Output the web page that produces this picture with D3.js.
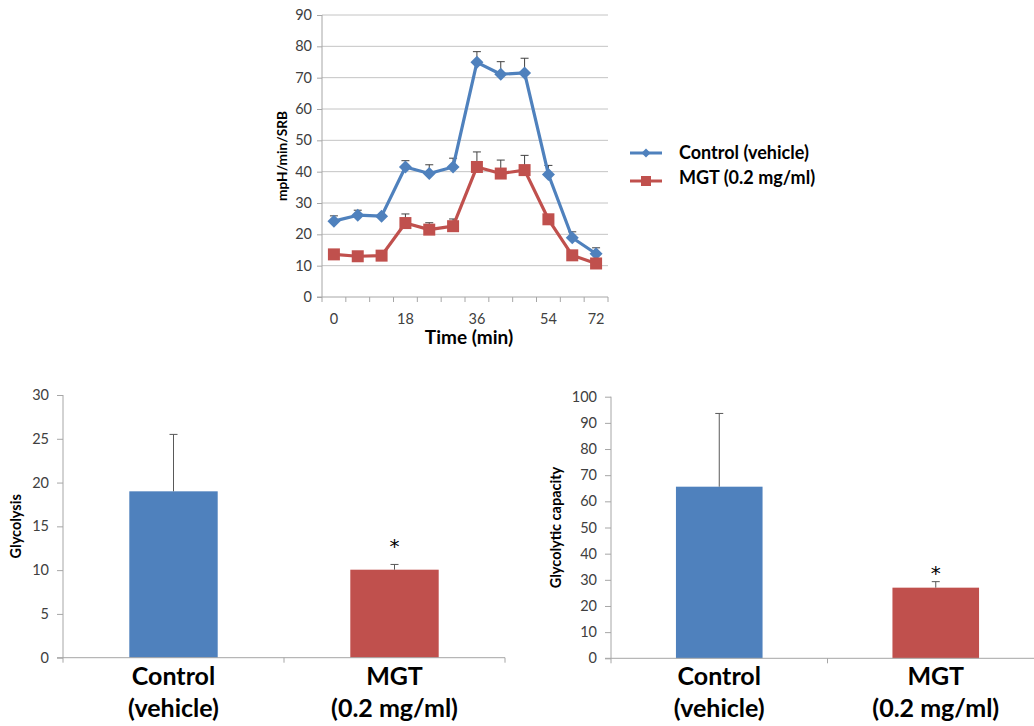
<!DOCTYPE html>
<html>
<head>
<meta charset="utf-8">
<script src="https://cdn.jsdelivr.net/npm/d3@7"></script>
<style>
  html, body { margin: 0; padding: 0; background: #fff; }
  svg { display: block; font-family: Lato, "Open Sans", "Liberation Sans", sans-serif; }
</style>
</head>
<body>
<svg id="chart" width="1034" height="726"></svg>
<script>
// ---------- DATA ----------
const timeCategories = ["0", "6", "12", "18", "24", "30", "36", "42", "48", "54", "60", "72"];
const timeTickLabels = ["0", "", "", "18", "", "", "36", "", "", "54", "", "72"];
const controlLine = [24.2, 26.1, 25.8, 41.5, 39.4, 41.5, 74.9, 71.1, 71.5, 39.1, 18.9, 13.8];
const controlLineErrTop = [25.9, 27.7, 26.3, 43.5, 42.2, 44.3, 78.3, 75.1, 76.2, 42.0, 20.8, 15.7];
const mgtLine = [13.6, 13.0, 13.2, 23.6, 21.5, 22.6, 41.5, 39.4, 40.5, 24.8, 13.3, 10.7];
const mgtLineErrTop = [14.0, 13.4, 13.6, 26.5, 23.7, 24.9, 46.3, 43.7, 45.2, 25.3, 13.7, 11.1];
const lineYTicks = [0, 10, 20, 30, 40, 50, 60, 70, 80, 90];
const seriesNames = ["Control (vehicle)", "MGT (0.2 mg/ml)"];

const barGroups = [["Control", "(vehicle)"], ["MGT", "(0.2 mg/ml)"]];
const glycolysis = [19.0, 10.05];
const glycolysisErr = [25.5, 10.65];
const glycolysisTicks = [0, 5, 10, 15, 20, 25, 30];
const capacity = [65.6, 27.0];
const capacityErr = [93.6, 29.3];
const capacityTicks = [0, 10, 20, 30, 40, 50, 60, 70, 80, 90, 100];
const significant = [false, true];

const BLUE = "#4f81bd", RED = "#c0504d";
const TICK_TXT = "#404040", AXIS = "#a6a6a6", GRID = "#c4c4c4", ERR = "#404040";
const TICK_FS = "14.5px";

const svg = d3.select("#chart");

// ---------- TOP LINE CHART ----------
(function () {
  const left = 322, right = 608, top = 15, bottom = 297;
  const y = d3.scaleLinear().domain([0, 90]).range([bottom, top]);
  const x = d3.scaleBand().domain(d3.range(timeCategories.length)).range([left, right]).padding(0);
  const cx = i => x(i) + x.bandwidth() / 2;
  const g = svg.append("g");

  g.selectAll("line.grid").data(lineYTicks.filter(d => d > 0)).join("line")
    .attr("x1", left).attr("x2", right)
    .attr("y1", d => y(d)).attr("y2", d => y(d))
    .attr("stroke", GRID).attr("stroke-width", 1);

  const yAxis = d3.axisLeft(y).tickValues(lineYTicks).tickSize(5).tickPadding(5);
  const ya = g.append("g").attr("transform", `translate(${left},0)`).call(yAxis);
  ya.select(".domain").attr("stroke", AXIS).attr("d", `M-5,${bottom}H0V${top}`);
  ya.selectAll(".tick line").attr("stroke", AXIS);
  ya.selectAll(".tick text").attr("fill", TICK_TXT).style("font-size", TICK_FS).style("font-family", "Lato, sans-serif");

  const xa = g.append("g").attr("transform", `translate(0,${bottom})`);
  xa.append("line").attr("x1", left).attr("x2", right).attr("stroke", AXIS);
  const bounds = d3.range(timeCategories.length + 1).map(i => left + i * x.bandwidth());
  xa.selectAll("line.tk").data(bounds).join("line")
    .attr("x1", d => d).attr("x2", d => d).attr("y1", 0).attr("y2", 5).attr("stroke", AXIS);
  xa.selectAll("text").data(timeTickLabels).join("text")
    .attr("x", (d, i) => cx(i)).attr("y", 27)
    .attr("text-anchor", "middle").attr("fill", TICK_TXT)
    .style("font-size", TICK_FS).text(d => d);

  g.append("text").attr("x", 469).attr("y", 344).attr("text-anchor", "middle")
    .style("font-weight", "bold").style("font-size", "19px").attr("fill", "#000").text("Time (min)");
  g.append("text").attr("transform", `translate(287,${(top + bottom) / 2}) rotate(-90)`)
    .attr("text-anchor", "middle").style("font-weight", "bold").style("font-size", "13.7px")
    .attr("fill", "#000").text("mpH/min/SRB");

  const line = d3.line().x((d, i) => cx(i)).y(d => y(d));
  const series = [
    { name: seriesNames[0], vals: controlLine, err: controlLineErrTop, color: BLUE, marker: "diamond" },
    { name: seriesNames[1], vals: mgtLine, err: mgtLineErrTop, color: RED, marker: "square" }
  ];
  const diamond = (s) => `M0,${-s}L${s},0L0,${s}L${-s},0Z`;

  series.forEach(s => {
    const eg = g.append("g");
    s.vals.forEach((v, i) => {
      eg.append("line").attr("x1", cx(i)).attr("x2", cx(i)).attr("y1", y(v)).attr("y2", y(s.err[i]))
        .attr("stroke", ERR).attr("stroke-width", 1);
      eg.append("line").attr("x1", cx(i) - 4).attr("x2", cx(i) + 4).attr("y1", y(s.err[i])).attr("y2", y(s.err[i]))
        .attr("stroke", ERR).attr("stroke-width", 1);
    });
  });
  series.forEach(s => {
    g.append("path").datum(s.vals).attr("d", line).attr("fill", "none")
      .attr("stroke", s.color).attr("stroke-width", 3.2).attr("stroke-linejoin", "round");
    g.selectAll(null).data(s.vals).join("path")
      .attr("transform", (d, i) => `translate(${cx(i)},${y(d)})`)
      .attr("d", s.marker === "diamond" ? diamond(6.5) : "M-6,-6H6V6H-6Z")
      .attr("fill", s.color);
  });

  const lg = svg.append("g");
  series.forEach((s, k) => {
    const ly = k === 0 ? 153 : 181;
    lg.append("line").attr("x1", 630).attr("x2", 662).attr("y1", ly).attr("y2", ly)
      .attr("stroke", s.color).attr("stroke-width", 3);
    lg.append("path").attr("transform", `translate(646,${ly})`)
      .attr("d", s.marker === "diamond" ? diamond(4.5) : "M-5,-5H5V5H-5Z").attr("fill", s.color);
    lg.append("text").attr("x", 679).attr("y", k === 0 ? 159 : 184)
      .style("font-weight", "bold").style("font-size", "18px").attr("fill", "#000").text(s.name);
  });
})();

// ---------- BAR CHARTS ----------
function barChart(opts) {
  const { left, right, top, bottom, domainMax, ticks, vals, errs, title, titleX, labelPad, starGap } = opts;
  const y = d3.scaleLinear().domain([0, domainMax]).range([bottom, top]);
  const x = d3.scaleBand().domain(d3.range(barGroups.length)).range([left, right]).padding(0);
  const bw = x.bandwidth() * 0.4;
  const cx = i => x(i) + x.bandwidth() / 2;
  const g = svg.append("g");

  g.selectAll("rect").data(vals).join("rect")
    .attr("x", (d, i) => cx(i) - bw / 2).attr("width", bw)
    .attr("y", d => y(d)).attr("height", d => bottom - y(d))
    .attr("fill", (d, i) => i === 0 ? BLUE : RED);

  vals.forEach((v, i) => {
    g.append("line").attr("x1", cx(i)).attr("x2", cx(i)).attr("y1", y(v)).attr("y2", y(errs[i]))
      .attr("stroke", "#595959").attr("stroke-width", 1);
    g.append("line").attr("x1", cx(i) - 4).attr("x2", cx(i) + 4).attr("y1", y(errs[i])).attr("y2", y(errs[i]))
      .attr("stroke", "#595959").attr("stroke-width", 1);
    if (significant[i]) {
      g.append("text").attr("x", cx(i)).attr("y", y(errs[i]) - starGap)
        .attr("text-anchor", "middle").attr("dominant-baseline", "central")
        .style("font-size", "20px").attr("fill", "#000")
        .style("font-family", "'DejaVu Sans', sans-serif").attr("dy", "0.3em").text("*");
    }
  });

  const ya = g.append("g").attr("transform", `translate(${left},0)`)
    .call(d3.axisLeft(y).tickValues(ticks).tickSize(6).tickPadding(labelPad));
  ya.select(".domain").attr("stroke", AXIS).attr("d", `M-6,${bottom}H0V${top}`);
  ya.selectAll(".tick line").attr("stroke", AXIS);
  ya.selectAll(".tick text").attr("fill", TICK_TXT).style("font-size", TICK_FS).style("font-family", "Lato, sans-serif");

  const xa = g.append("g").attr("transform", `translate(0,${bottom})`);
  xa.append("line").attr("x1", left).attr("x2", right).attr("stroke", AXIS);
  const bounds = d3.range(barGroups.length + 1).map(i => left + i * x.bandwidth());
  xa.selectAll("line.tk").data(bounds).join("line")
    .attr("x1", d => d).attr("x2", d => d).attr("y1", 0).attr("y2", 5).attr("stroke", AXIS);
  barGroups.forEach((lbl, i) => {
    lbl.forEach((t, k) => {
      xa.append("text").attr("x", cx(i)).attr("y", 27 + k * 32)
        .attr("text-anchor", "middle").style("font-weight", "bold").style("font-size", "25px")
        .attr("fill", "#000").text(t);
    });
  });

  g.append("text").attr("transform", `translate(${titleX},${(top + bottom) / 2}) rotate(-90)`)
    .attr("text-anchor", "middle").style("font-weight", "bold").style("font-size", "14.5px")
    .attr("fill", "#000").text(title);
}

barChart({ left: 63, right: 505, top: 395, bottom: 657.7, domainMax: 30, ticks: glycolysisTicks,
  vals: glycolysis, errs: glycolysisErr, title: "Glycolysis", titleX: 21, labelPad: 8, starGap: 24 });
barChart({ left: 611, right: 1044, top: 396.7, bottom: 658.3, domainMax: 100, ticks: capacityTicks,
  vals: capacity, errs: capacityErr, title: "Glycolytic capacity", titleX: 561, labelPad: 8, starGap: 15 });
</script>
</body>
</html>
